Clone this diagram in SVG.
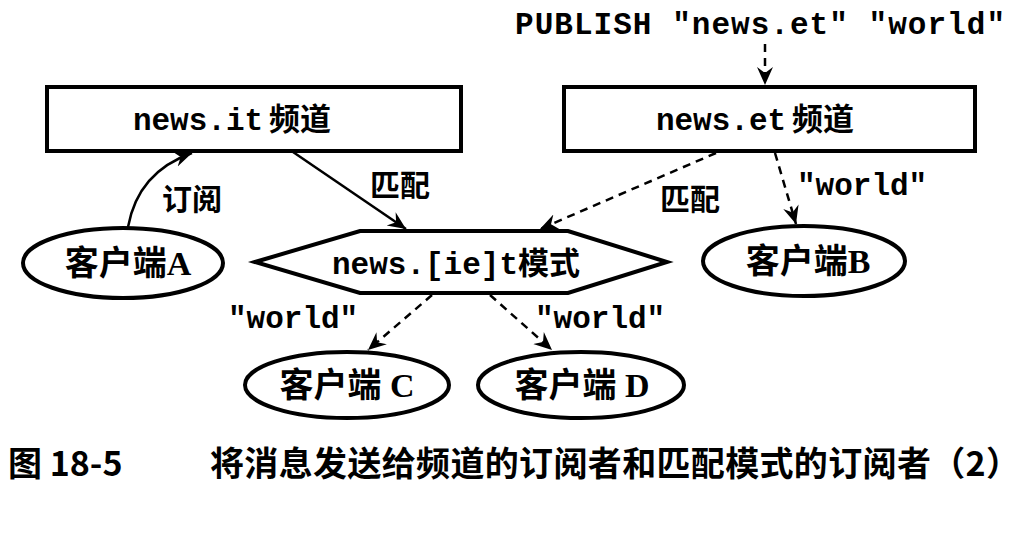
<svg xmlns="http://www.w3.org/2000/svg" width="1030" height="540" viewBox="0 0 1030 540">
<style>
.box{fill:#fff;stroke:#000;stroke-width:4}
.mono{font-family:"Liberation Mono","Noto Sans CJK SC",monospace;font-weight:bold;font-size:31px;fill:#000}
.cjk{font-family:"Liberation Serif","Noto Sans CJK SC",serif;font-weight:bold;font-size:34px;fill:#000}
.lbl{font-family:"Noto Sans CJK SC",sans-serif;font-weight:bold;font-size:30px;fill:#000}
.ln{fill:none;stroke:#000;stroke-width:2.5}
.dash{stroke-dasharray:8 6}
.cap{font-family:"Noto Sans CJK SC",sans-serif;font-weight:bold;font-size:34px;fill:#000}
</style>
<defs>
<marker id="arr" markerUnits="userSpaceOnUse" markerWidth="20" markerHeight="18" refX="18" refY="9" orient="auto">
<path d="M0,1 L18,9 L0,17 L6,9 z" fill="#000"/>
</marker>
</defs>
<rect width="1030" height="540" fill="#fff"/>
<g id="publish">
<text class="mono" x="515" y="34" font-size="32" textLength="490">PUBLISH "news.et" "world"</text>
</g>
<g id="news-it">
<rect class="box" x="47" y="87" width="414" height="64"/>
<text class="mono" x="232" y="130" text-anchor="middle" font-size="33">news.it<tspan dx="6">频道</tspan></text>
</g>
<g id="news-et">
<rect class="box" x="564" y="87" width="411" height="64"/>
<text class="mono" x="755" y="130" text-anchor="middle" font-size="33">news.et<tspan dx="6">频道</tspan></text>
</g>
<g id="pattern">
<polygon class="box" points="255,262 360,231 568,231 667,262 568,293 360,293"/>
<text class="mono" x="456" y="274" text-anchor="middle" font-size="33">news.[ie]t模式</text>
</g>
<g id="client-a">
<ellipse class="box" cx="123" cy="263" rx="100" ry="35"/>
<text class="cjk" x="128" y="275" text-anchor="middle">客户端A</text>
</g>
<g id="client-b">
<ellipse class="box" cx="804" cy="261" rx="101" ry="35"/>
<text class="cjk" x="808" y="273" text-anchor="middle">客户端B</text>
</g>
<g id="client-c">
<ellipse class="box" cx="347" cy="385" rx="102" ry="33"/>
<text class="cjk" x="347" y="397" text-anchor="middle">客户端 C</text>
</g>
<g id="client-d">
<ellipse class="box" cx="581" cy="385" rx="103" ry="33"/>
<text class="cjk" x="582" y="397" text-anchor="middle">客户端 D</text>
</g>
<g id="connectors">
<path class="ln dash" d="M765,44 L765,85" marker-end="url(#arr)"/>
<path class="ln" d="M128,227 Q138,172 192,153" marker-end="url(#arr)"/>
<path class="ln" d="M293,152 L406,229" marker-end="url(#arr)"/>
<path class="ln dash" d="M716,153 L540,229" marker-end="url(#arr)"/>
<path class="ln dash" d="M775,153 L796,224" marker-end="url(#arr)"/>
<path class="ln dash" d="M432,295 L368,350" marker-end="url(#arr)"/>
<path class="ln dash" d="M490,295 L552,350" marker-end="url(#arr)"/>
<text class="lbl" x="192" y="210" text-anchor="middle">订阅</text>
<text class="lbl" x="400" y="196" text-anchor="middle">匹配</text>
<text class="lbl" x="690" y="210" text-anchor="middle">匹配</text>
<text class="mono" x="797" y="195">"world"</text>
<text class="mono" x="228" y="328">"world"</text>
<text class="mono" x="535" y="328">"world"</text>
</g>
<g id="caption">
<text class="cap" x="8" y="476">图 18-5</text>
<text class="cap" x="210" y="476" textLength="810">将消息发送给频道的订阅者和匹配模式的订阅者（2）</text>
</g>
</svg>
